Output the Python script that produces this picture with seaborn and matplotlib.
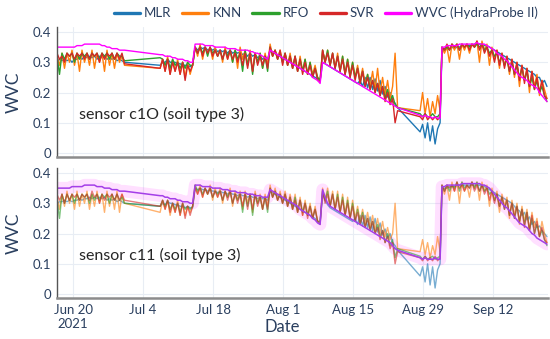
"""Soil water content predictions vs. HydraProbe II readings, two sensors."""
import matplotlib
matplotlib.use("Agg")
import matplotlib.pyplot as plt
from matplotlib.lines import Line2D
import pandas as pd
import seaborn as sns

# each series is split into 4 recording segments (12 h sampling), gaps in between
SEGMENT_STARTS = ["2021-06-16 19:00", "2021-07-07 10:00",
                  "2021-08-28 10:00", "2021-09-01 19:00"]
MODELS = ["MLR", "KNN", "RFO", "SVR", "WVC (HydraProbe II)"]
COLORS = ["#1f77b4", "#ff7f0e", "#2ca02c", "#d62728", "#ff00ff"]

TICK_DATES = ["2021-06-20", "2021-07-04", "2021-07-18", "2021-08-01",
              "2021-08-15", "2021-08-29", "2021-09-12"]
TICK_LABELS = ["Jun 20\n2021", "Jul 4", "Jul 18", "Aug 1", "Aug 15", "Aug 29", "Sep 12"]
Y_TICKS = [0, 0.1, 0.2, 0.3, 0.4]
Y_LABELS = ["0", "0.1", "0.2", "0.3", "0.4"]

# ---- sensor c10 (values are WVC x 100) ----
C10_WVC = [
    [35, 35, 35, 35, 35, 35, 35, 35, 35.5, 35.5, 35.5, 36, 36, 36, 36, 36, 36, 36, 35.5, 35.5,
     35, 35, 34.5, 34.5, 34.5, 34, 34, 34],
    [32.5, 32.5, 32, 32, 32, 31.5, 31.5, 31, 31, 31, 30.5, 30.5, 30, 30,
     36, 36, 36, 36, 35.5, 35.5, 35.5, 35.5, 35, 35, 35, 35, 35, 34.5, 34.5, 34.5, 34.5, 34, 34, 34,
     34, 34, 33.5, 33.5, 33, 33, 32.5, 32, 31.5, 31,
     34, 33.5, 33, 32.5, 32, 31.5, 31, 30.5, 30, 29.5, 29, 28.5, 28, 27.5, 27, 26.5, 26, 25, 24.5, 24, 23,
     30, 29.5, 29, 28.5, 28, 27.5, 27, 26.5, 26, 25.5, 25, 24.5, 24, 23.5, 23, 22.5, 22, 21.5, 21, 20.5,
     20, 19.5, 19, 18.5, 18, 17.5, 17, 16.5, 16, 15.5, 15],
    [12.5, 12, 12.5, 12, 12, 11.5, 12, 11.5, 11.5],
    [35, 35, 35.5, 35.5, 35.5, 35.5, 35.5, 36, 36, 36, 36, 36, 36, 36, 36.5, 36, 36, 36, 35.5, 35,
     34.5, 34, 33, 32.5, 32, 31, 30.5, 29.5, 28.5, 27.5, 26.5, 25.5, 25, 24.5, 24, 23, 22.5, 22, 21.5, 20,
     19, 18, 17],
]
C10_MLR = [
    [30, 31, 30.5, 31, 30.5, 31, 30, 31, 31, 31.5, 31, 32, 31.5, 32, 31.5, 32, 31, 32, 31.5, 32,
     31, 31.5, 31, 31.5, 30.5, 31, 30.5, 30],
    [29, 30, 30, 31, 30, 30, 30, 29.5, 29.5, 29, 29, 29, 28.5, 29,
     35, 34, 35, 34.5, 35, 34, 34.5, 34, 34.5, 33.5, 34, 33.5, 34, 33, 34, 33, 33.5, 33, 33.5, 32.5,
     33, 32, 33, 32, 32.5, 31.5, 32, 31, 32, 31,
     34, 33.5, 33, 32.5, 32, 31.5, 31, 30.5, 30, 29.5, 29, 28.5, 28, 27.5, 27, 26.5, 26, 25.5, 25, 24.5, 24,
     30, 29.5, 29, 28.5, 28, 27.5, 27, 26.5, 26, 25.5, 25, 24.5, 24, 23.5, 23, 24, 22, 25, 21.5, 25,
     21, 24.5, 20.5, 24, 19.5, 22, 18.5, 20, 17, 16.5, 15],
    [7, 9.5, 5, 10, 4, 9, 3, 8, 10],
    [34, 34.5, 34.5, 34.5, 35, 34.5, 35, 35, 35.5, 35, 35.5, 35.5, 35.5, 36, 36, 36, 36, 35.5, 35.5, 35,
     34.5, 34, 33.5, 33, 32.5, 32, 31.5, 31, 30.5, 30, 29.5, 29, 28.5, 28, 27.5, 27, 26.5, 26, 25, 25,
     23, 24, 22],
]
C10_KNN = [
    [32, 29, 33, 28, 33, 30, 34, 29, 33, 27, 34, 30, 33, 29, 34, 28, 33, 30, 33, 27,
     34, 29, 33, 28, 33, 30, 32, 29],
    [28, 31, 27, 32, 26, 31, 27, 31, 26, 30, 25, 30, 26, 29,
     35, 32, 36, 31, 35, 33, 35, 31, 35, 32, 34, 30, 35, 31, 34, 30, 34, 28, 35, 31,
     34, 29, 34, 27, 33, 30, 33, 28, 33, 29,
     36, 32, 34, 31, 34, 30, 33, 29, 33, 28, 32, 27, 32, 27, 31, 26, 30, 26, 29, 25, 24,
     34, 30, 34, 29, 33, 28, 33, 27, 32, 26, 31, 26, 30, 25, 29, 24, 28, 23, 26, 22,
     27, 21, 28, 20, 25, 19, 24, 18, 22, 33, 15],
    [14, 20, 13, 18, 12, 17, 13, 19, 14],
    [35, 33, 35, 30, 36, 34, 36, 31, 36, 34, 36, 33, 36, 35, 37, 30, 37, 34, 36, 29,
     35, 31, 34, 28, 33, 29, 32, 26, 31, 25, 30, 22, 29, 24, 28, 20, 27, 22, 26, 19,
     24, 21, 18],
]
C10_RFO = [
    [32, 26, 33, 31, 33, 32, 33, 30, 33, 31, 33, 32, 33, 31, 33, 32, 33, 31, 33, 32,
     33, 31, 33, 31, 33, 32, 32, 30.5],
    [31.5, 31, 29, 31, 28, 31, 29, 30, 28, 30, 28, 30, 29, 29,
     35, 33, 35, 33, 35, 32, 35, 33, 34, 32, 34, 31, 34, 32, 34, 30, 34, 31, 33, 27,
     34, 29, 33, 26, 33, 30, 33, 28, 32, 27,
     35, 32, 34, 31, 33, 30, 33, 29, 32, 28, 32, 27, 31, 27, 31, 26, 30, 25, 28, 25, 24,
     34, 30, 34, 29, 33, 28, 32, 27, 32, 26, 31, 25, 30, 25, 28, 23, 27, 22, 26, 21,
     24, 20, 23, 19, 22, 18, 21, 17, 19, 16, 15],
    [13, 12, 13, 12, 12, 13, 12, 12, 13],
    [35, 34, 35, 34, 36, 35, 36, 34, 36, 35, 36, 35, 36, 35, 36, 35, 36, 34, 35, 33,
     34, 32, 33, 30, 32, 29, 31, 27, 30, 26, 29, 25, 28, 24, 27, 22, 25, 21, 24, 20,
     22, 19, 17],
]
C10_SVR = [
    [33, 31, 32, 30, 33, 32, 33, 31, 33, 32, 33, 31, 33, 31, 33, 32, 33, 30, 33, 31,
     33, 32, 33, 31, 33, 31, 33, 29.5],
    [28, 31, 27, 31, 26, 30, 27, 30, 26, 30, 24, 29, 27, 29,
     35, 33, 35, 32, 35, 33, 35, 32, 34, 32, 34, 31, 34, 31, 34, 31, 33, 30, 33, 29,
     33, 28, 33, 27, 33, 29, 32, 29, 32, 28,
     35, 32, 34, 31, 34, 29, 33, 29, 32, 28, 32, 27, 31, 26, 30, 26, 29, 25, 28, 24, 23.5,
     34, 30, 33, 29, 33, 28, 32, 27, 31, 26, 30, 25, 29, 24, 28, 23, 27, 22, 25, 21,
     24, 20, 23, 19, 22, 17, 20, 16, 18, 10, 14],
    [12, 11, 13, 11, 12, 11, 12, 11, 12],
    [35, 34, 36, 34, 36, 35, 36, 34, 36, 35, 36, 34, 36, 35, 37, 34, 36, 33, 35, 32,
     34, 30, 34, 29, 33, 28, 32, 27, 31, 26, 30, 24, 29, 23, 28, 22, 27, 21, 25, 20,
     24, 19, 18],
]

# ---- sensor c11 (values are WVC x 100) ----
C11_WVC = [
    [35, 35, 35, 35, 35, 35, 35.5, 35.5, 35.5, 35.5, 35.5, 36, 36, 36, 36, 36, 35.5, 35.5, 35.5, 35,
     35, 35, 34.5, 34.5, 34.5, 34, 34, 34],
    [32.5, 32.5, 32, 32, 31.5, 31.5, 31.5, 31, 31, 30.5, 30.5, 30.5, 30, 30,
     36, 36, 36, 35.5, 35.5, 35.5, 35.5, 35, 35, 35, 35, 34.5, 34.5, 34.5, 34, 34, 34, 33.5, 33.5, 33.5,
     33.5, 33, 33, 33, 32.5, 32.5, 32.5, 32, 32, 32,
     34.5, 34, 33.5, 33, 32.5, 32, 31.5, 31, 30.5, 30, 29.5, 29, 28, 27.5, 27, 26.5, 26, 25, 24.5, 23.5, 23,
     34.5, 32, 30, 29, 28.5, 28, 27.5, 27, 26.5, 26, 25.5, 25, 24.5, 24, 23.5, 23, 22.5, 22, 21.5, 21,
     20.5, 20, 19.5, 19, 18.5, 18, 17.5, 17, 16, 15, 14.5],
    [12, 11.5, 12, 11.5, 11.5, 11.5, 12, 11.5, 11.5],
    [35.5, 35.5, 36, 36, 36, 36, 36, 36, 36.5, 36.5, 36.5, 36.5, 36.5, 36.5, 36.5, 36.5, 36, 36, 35.5, 35,
     34, 33, 32, 31, 30, 29, 28.5, 27.5, 26.5, 25.5, 24.5, 23.5, 23, 22.5, 22, 21, 20, 19.5, 18.5, 18,
     17.5, 17, 16.5],
]
C11_MLR = [
    [30, 30.5, 30.5, 31, 30.5, 31, 30.5, 31, 31, 31.5, 31, 31.5, 31.5, 32, 31.5, 32, 31.5, 32, 31.5, 32,
     31, 31.5, 31, 31.5, 30.5, 31, 30.5, 30],
    [29, 30, 29.5, 30.5, 30, 30, 29.5, 29.5, 29, 29, 28.5, 29, 28.5, 28.5,
     35, 34.5, 35, 34.5, 34.5, 34, 34.5, 34, 34, 33.5, 34, 33.5, 33.5, 33, 33.5, 33, 33, 32.5, 33, 32.5,
     32.5, 32, 32.5, 32, 32, 31.5, 32, 31.5, 31.5, 31,
     34, 33.5, 33, 32.5, 32, 31.5, 31, 30.5, 30, 29.5, 29, 28.5, 28, 27.5, 27, 26.5, 26, 25.5, 25, 24, 23.5,
     33, 31, 29.5, 28.5, 28, 27.5, 27, 26.5, 26, 25.5, 25, 24.5, 24, 25, 23, 26, 22.5, 26, 22, 25.5,
     21, 25, 20.5, 23.5, 19.5, 21.5, 18.5, 20, 17, 16, 14.5],
    [6, 9, 4, 10, 3, 9, 2, 8, 10],
    [34.5, 35, 35, 35.5, 35.5, 35.5, 36, 36, 36, 36, 36, 36, 36, 36, 36, 36, 35.5, 35.5, 35, 34.5,
     34, 33.5, 33, 32.5, 32, 31.5, 31, 30.5, 30, 29, 28, 27.5, 26, 27, 24.5, 25.5, 23, 24, 22, 22.5,
     21, 20, 19],
]
C11_KNN = [
    [32, 28, 33, 29, 34, 30, 33, 28, 34, 29, 33, 30, 34, 28, 33, 29, 34, 30, 33, 27,
     34, 29, 33, 28, 34, 27, 33, 30],
    [27, 31, 28, 31, 26, 30, 27, 31, 26, 30, 26, 29, 27, 29,
     36, 33, 36, 32, 35, 33, 36, 31, 35, 32, 35, 30, 34, 32, 35, 29, 34, 31, 34, 28,
     34, 30, 33, 27, 34, 30, 33, 28, 33, 29,
     36, 32, 35, 31, 34, 30, 34, 29, 33, 28, 33, 27, 32, 26, 31, 26, 30, 25, 29, 24, 24,
     35, 31, 35, 29, 34, 28, 34, 27, 33, 26, 32, 25, 31, 25, 29, 24, 28, 23, 27, 22,
     26, 21, 25, 20, 24, 19, 22, 18, 20, 30, 15],
    [14, 18, 13, 17, 12, 16, 13, 19, 14],
    [36, 33, 36, 31, 37, 34, 37, 30, 37, 34, 36, 32, 37, 35, 37, 31, 37, 34, 36, 29,
     35, 31, 34, 27, 33, 29, 32, 25, 31, 26, 30, 23, 29, 24, 28, 21, 27, 22, 25, 19,
     24, 20, 17],
]
C11_RFO = [
    [31, 25, 33, 30, 33, 31, 33, 30, 33, 31, 33, 32, 33, 30, 33, 31, 33, 31, 33, 32,
     33, 30, 33, 31, 33, 31, 32, 30],
    [29, 31, 29, 31, 28, 30, 28, 30, 27, 30, 28, 29, 28, 29,
     36, 34, 35, 33, 35, 33, 35, 32, 34, 33, 34, 31, 34, 32, 34, 30, 33, 31, 33, 27,
     33, 29, 33, 26, 33, 30, 32, 28, 32, 27,
     35, 32, 34, 31, 33, 30, 33, 29, 32, 28, 32, 27, 31, 27, 30, 26, 29, 25, 28, 24, 24,
     34, 31, 34, 29, 33, 28, 33, 27, 32, 26, 31, 25, 30, 24, 28, 23, 27, 22, 25, 21,
     24, 20, 23, 19, 21, 17, 20, 16, 18, 12, 15],
    [12.5, 11.5, 12.5, 11.5, 12, 12.5, 11.5, 12, 12.5],
    [36, 34, 36, 34, 36, 35, 37, 34, 37, 35, 36, 35, 37, 35, 37, 34, 36, 34, 35, 33,
     34, 31, 33, 29, 32, 28, 31, 26, 30, 25, 29, 24, 28, 23, 27, 21, 25, 20, 23, 19,
     21, 18, 16],
]
C11_SVR = [
    [33, 31, 33, 30, 33, 31, 33, 32, 33, 31, 33, 32, 33, 31, 34, 32, 33, 30, 33, 31,
     33, 32, 33, 31, 33, 31, 33, 31],
    [29, 31, 28, 31, 27, 30, 27, 30, 26, 30, 25, 29, 26, 29,
     35, 33, 35, 32, 35, 33, 35, 32, 34, 32, 34, 31, 34, 31, 34, 30, 33, 30, 33, 29,
     33, 28, 33, 28, 33, 29, 32, 28, 32, 28,
     35, 32, 34, 31, 33, 30, 33, 29, 32, 28, 31, 27, 31, 26, 30, 25, 29, 25, 28, 24, 23,
     34, 30, 33, 29, 33, 28, 32, 27, 31, 26, 30, 25, 29, 24, 27, 23, 26, 22, 25, 21,
     24, 20, 22, 18, 21, 17, 19, 15, 17, 10, 14],
    [12, 11, 12.5, 11, 12, 11, 12.5, 11, 12],
    [36, 34, 36, 35, 36, 34, 37, 35, 36, 34, 36, 35, 37, 34, 36, 34, 36, 33, 35, 31,
     34, 30, 33, 29, 32, 28, 31, 26, 30, 25, 29, 24, 28, 22, 27, 21, 26, 20, 24, 19,
     22, 18, 17],
]


def to_frame(series):
    """Long-format frame: one row per sample, segments back to back."""
    parts = []
    for name, segments in zip(MODELS, series):
        for start, values in zip(SEGMENT_STARTS, segments):
            dates = pd.date_range(start, periods=len(values), freq="12h")
            parts.append(pd.DataFrame({"Date": dates,
                                       "WVC": [v / 100 for v in values],
                                       "model": name}))
    return pd.concat(parts, ignore_index=True)


def style_axes(ax, show_labels):
    ax.set_xlim(pd.Timestamp("2021-06-16 19:00"), pd.Timestamp("2021-09-23 00:00"))
    ax.set_ylim(-0.013, 0.4165)
    ax.set_yticks(Y_TICKS, labels=Y_LABELS)
    ax.set_xticks(pd.to_datetime(TICK_DATES))
    ax.set_xticklabels(TICK_LABELS if show_labels else [])
    ax.grid(color="#e8edf4", lw=0.8)
    ax.set_axisbelow(True)
    for side in ("top", "right"):
        ax.spines[side].set_visible(False)
    ax.spines["left"].set_color("#555555")
    ax.spines["left"].set_linewidth(1.0)
    ax.spines["bottom"].set_color("#8c8c8c")
    ax.spines["bottom"].set_linewidth(1.8)
    ax.tick_params(length=0, labelsize=9.5, colors="#2a3f5f", pad=4)
    ax.set_xlabel("")
    ax.set_ylabel("WVC", fontsize=12.5, color="#2a3f5f")
    ax.yaxis.set_label_coords(-0.071, 0.5)


sns.set_style("white")
plt.rcParams["font.family"] = ["Lato", "DejaVu Sans"]

fig = plt.figure(figsize=(5.5, 3.39), dpi=100)
ax_top = fig.add_axes([57 / 550, 182 / 339, 491 / 550, 130 / 339])
ax_bot = fig.add_axes([57 / 550, 41 / 339, 491 / 550, 130 / 339])
palette = dict(zip(MODELS, COLORS))

# sensor c10: plain lines
df10 = to_frame([C10_MLR, C10_KNN, C10_RFO, C10_SVR, C10_WVC])
sns.lineplot(data=df10, x="Date", y="WVC", hue="model", hue_order=MODELS,
             palette=palette, estimator=None, lw=1.0, legend=False, ax=ax_top)

# sensor c11: translucent model lines, haloed reference line
df11 = to_frame([C11_MLR, C11_KNN, C11_RFO, C11_SVR, C11_WVC])
ref = df11[df11["model"] == MODELS[-1]]
sns.lineplot(data=ref, x="Date", y="WVC", color="#ff00ff", alpha=0.12,
             lw=9, estimator=None, ax=ax_bot)
sns.lineplot(data=df11[df11["model"] != MODELS[-1]], x="Date", y="WVC", hue="model",
             hue_order=MODELS[:-1], palette=palette, estimator=None, lw=1.0,
             alpha=0.6, legend=False, ax=ax_bot)
sns.lineplot(data=ref, x="Date", y="WVC", color="#a43ee8", lw=1.1,
             estimator=None, ax=ax_bot)

style_axes(ax_top, False)
style_axes(ax_bot, True)

ax_top.text(0.045, 0.33, "sensor c1O (soil type 3)", transform=ax_top.transAxes,
            fontsize=11.5, va="center")
ax_bot.text(0.045, 0.33, "sensor c11 (soil type 3)", transform=ax_bot.transAxes,
            fontsize=11.5, va="center")
fig.text(282 / 550, 1 - 327 / 339, "Date", ha="center", va="center",
         fontsize=12, color="#2a3f5f")

handles = [Line2D([], [], color=c, lw=2.4) for c in COLORS]
fig.legend(handles, MODELS, loc="upper right", bbox_to_anchor=(1.0, 1.015), ncol=5,
           frameon=False, fontsize=9.5, handlelength=2.0, handletextpad=0.3,
           columnspacing=0.8, labelcolor="#2a3f5f")

fig.savefig("out.png", dpi=100)
